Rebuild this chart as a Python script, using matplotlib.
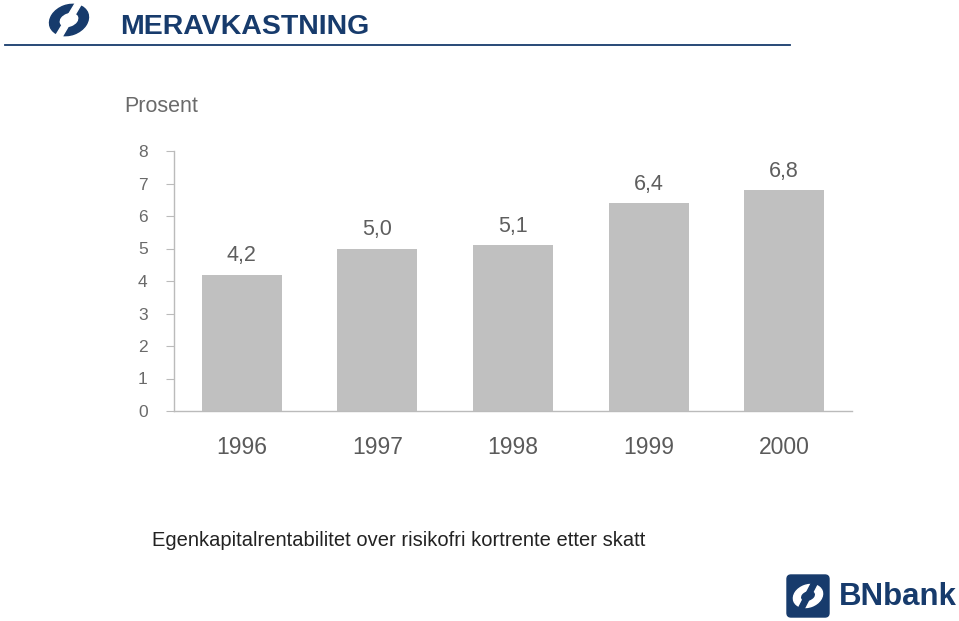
import matplotlib
matplotlib.use("Agg")
import matplotlib.pyplot as plt
from matplotlib.patches import Ellipse, FancyBboxPatch, Polygon
from matplotlib.lines import Line2D

plt.rcParams["font.family"] = ["Liberation Sans", "DejaVu Sans"]

years = ["1996", "1997", "1998", "1999", "2000"]
values = [4.2, 5.0, 5.1, 6.4, 6.8]
value_labels = ["4,2", "5,0", "5,1", "6,4", "6,8"]
y_ticks = [0, 1, 2, 3, 4, 5, 6, 7, 8]

NAVY = "#173B6C"
GREY_TXT = "#6A6A6A"
BAR = "#C0C0C0"

W, H = 959, 621
fig = plt.figure(figsize=(W / 100, H / 100), dpi=100)


def fx(px):
    return px / W


def fy(py):
    return 1 - py / H


# chart area
ax = fig.add_axes([fx(174), fy(411), fx(852) - fx(174), fy(151) - fy(411)])
x = range(len(years))
ax.bar(x, values, width=0.59, color=BAR, edgecolor="none")
for xi, v, lbl in zip(x, values, value_labels):
    ax.text(xi, v + 0.25, lbl, ha="center", va="bottom", fontsize=15.5,
            color="#5E5E5E")
ax.set_xlim(-0.5, 4.5)
ax.set_ylim(0, 8)
ax.set_yticks(y_ticks)
ax.set_yticklabels([str(t) for t in y_ticks], fontsize=12.5, color=GREY_TXT)
ax.set_xticks(list(x))
ax.set_xticklabels(years, fontsize=16.5, color="#5A5A5A")
ax.tick_params(axis="x", length=0, pad=18)
ax.tick_params(axis="y", length=6, width=0.8, color="#BBBBBB", pad=13)
for side in ("top", "right"):
    ax.spines[side].set_visible(False)
for side in ("left", "bottom"):
    ax.spines[side].set_color("#BBBBBB")
    ax.spines[side].set_linewidth(1.0)

# header
fig.text(fx(120), fy(27), "MERAVKASTNING", fontsize=20.5, fontweight="bold",
         color=NAVY, ha="left", va="center")
fig.add_artist(Line2D([fx(5), fx(790)], [fy(45), fy(45)], color=NAVY, lw=1.3))

# top-left logo (rough swoosh)
lax = fig.add_axes([fx(44), fy(40), fx(50), fy(0) - fy(40)])
lax.set_xlim(0, 50)
lax.set_ylim(0, 40)
lax.axis("off")
lax.add_patch(Ellipse((25, 20), 40, 30, angle=20, color=NAVY))
lax.add_patch(Ellipse((25, 20), 18, 12, angle=20, color="white"))
lax.add_patch(Polygon([[12, 5], [18, 3], [38, 37], [32, 38]], color="white"))

fig.text(fx(124), fy(107), "Prosent", fontsize=15.5, color=GREY_TXT,
         ha="left", va="center")

fig.text(fx(152), fy(541), "Egenkapitalrentabilitet over risikofri kortrente etter skatt",
         fontsize=14.5, color="#222222", ha="left", va="center")

# bottom-right logo
bax = fig.add_axes([fx(786), fy(618), fx(44), fy(574) - fy(618)])
bax.set_xlim(0, 44)
bax.set_ylim(0, 44)
bax.axis("off")
bax.add_patch(FancyBboxPatch((1, 1), 42, 42, boxstyle="round,pad=0,rounding_size=4",
                             color=NAVY))
bax.add_patch(Ellipse((22, 22), 30, 22, angle=20, color="white"))
bax.add_patch(Ellipse((22, 22), 13, 8, angle=20, color=NAVY))
bax.add_patch(Polygon([[12, 9], [17, 7], [32, 36], [27, 38]], color=NAVY))
fig.text(fx(839), fy(597), "BNbank", fontsize=22.5, fontweight="bold",
         color=NAVY, ha="left", va="center")

fig.savefig("out.png", dpi=100)
